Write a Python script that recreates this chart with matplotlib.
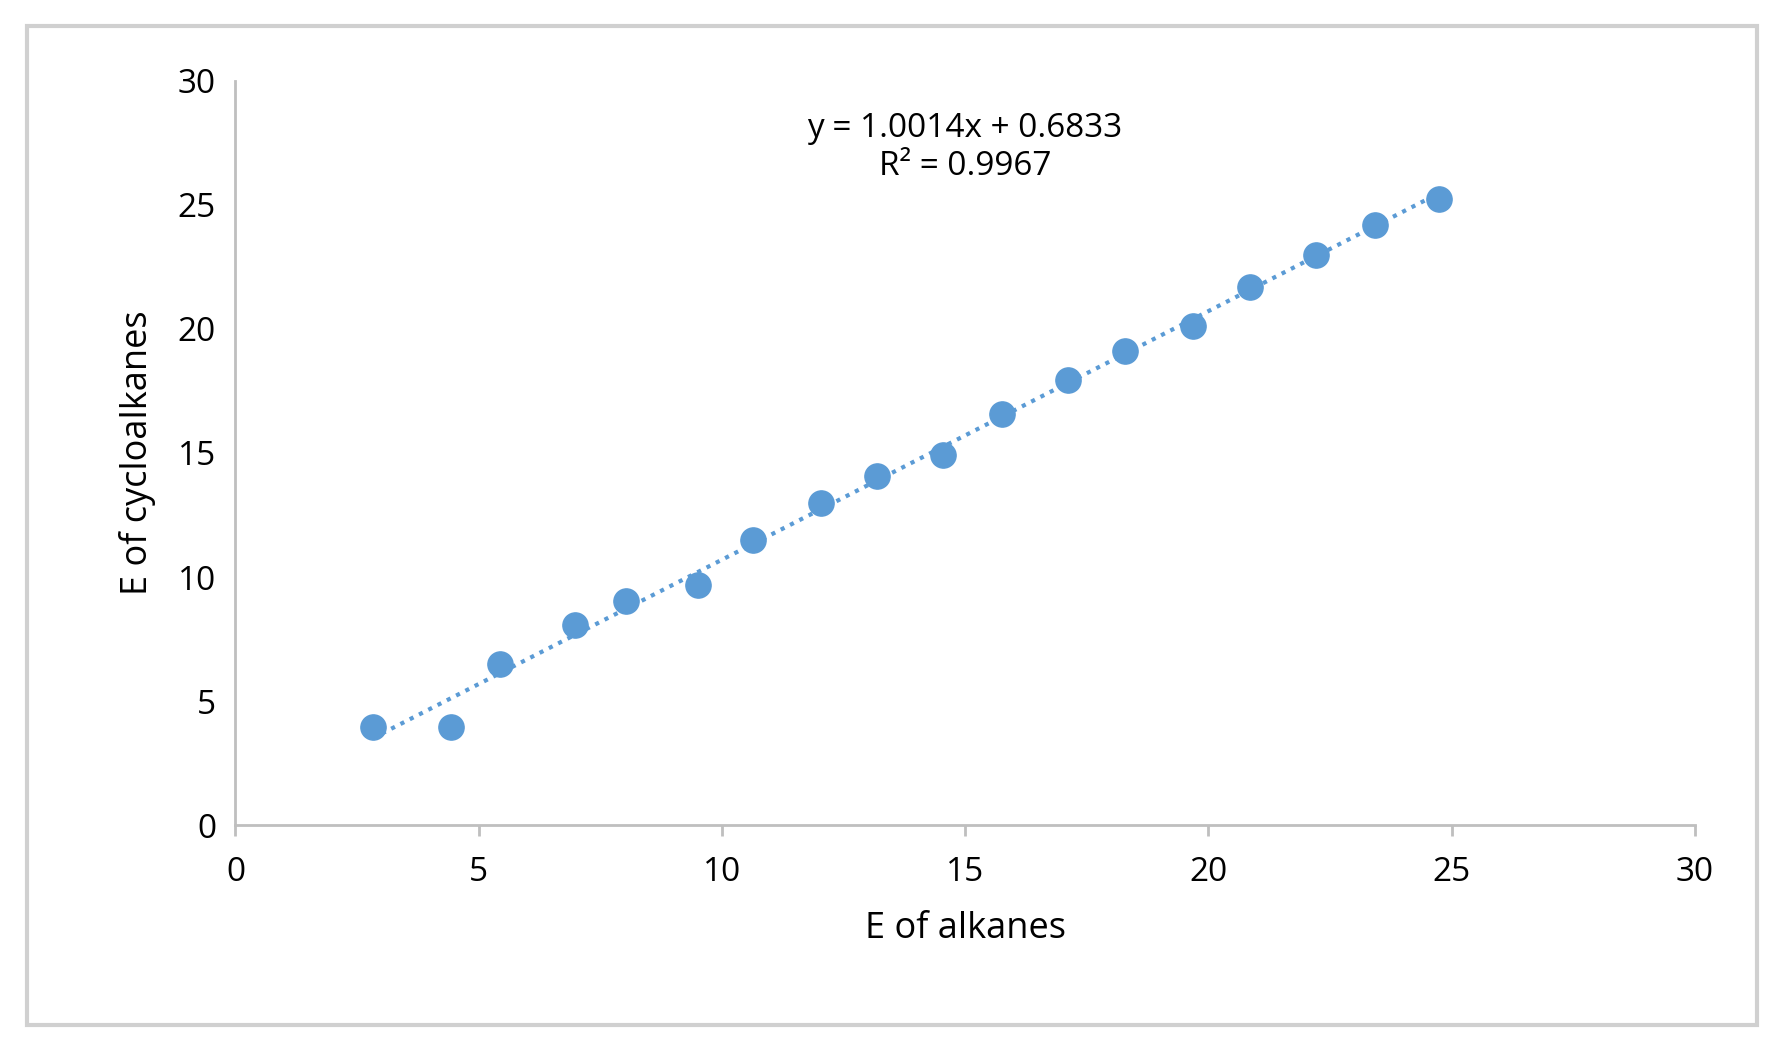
import numpy as np
import matplotlib.pyplot as plt
from matplotlib.patches import Rectangle

plt.rcParams['font.family'] = ['Open Sans', 'DejaVu Sans']

# datos
alcanos = [2.82, 4.44, 5.43, 6.98, 8.02, 9.50, 10.63, 12.04, 13.19, 14.55,
           15.75, 17.12, 18.29, 19.68, 20.86, 22.22, 23.42, 24.74]
cicloalcanos = [3.96, 3.96, 6.49, 8.05, 9.02, 9.66, 11.5, 12.98, 14.08, 14.91,
                16.57, 17.95, 19.1, 20.11, 21.68, 22.96, 24.2, 25.22]
pendiente = 1.0014
intercepto = 0.6833

fig = plt.figure(figsize=(17.84, 10.46), dpi=100)
fig.patches.append(Rectangle((0.015, 0.02), 0.97, 0.955, transform=fig.transFigure,
                             fill=False, edgecolor='#d0d0d0', linewidth=3))
ax = fig.add_axes([0.132, 0.211, 0.818, 0.712])

x = np.array(alcanos)
ax.plot([x.min(), x.max()], [pendiente * x.min() + intercepto, pendiente * x.max() + intercepto],
        linestyle=(0, (1, 1.5)), color='#5b9bd5', linewidth=3, zorder=1)
ax.scatter(alcanos, cicloalcanos, s=330, color='#5b9bd5', zorder=2)

ax.set_xlim(0, 30)
ax.set_ylim(0, 30)
ax.set_xticks(range(0, 31, 5))
ax.set_yticks(range(0, 31, 5))
ax.tick_params(labelsize=24, length=0, pad=14)
for s in ['top', 'right']:
    ax.spines[s].set_visible(False)
for s in ['left', 'bottom']:
    ax.spines[s].set_color('#bfbfbf')
    ax.spines[s].set_linewidth(2)
ax.tick_params(axis='x', length=8, color='#bfbfbf', width=2, direction='out')

ax.set_xlabel('E of alkanes', fontsize=26, labelpad=16)
ax.set_ylabel('E of cycloalkanes', fontsize=26, labelpad=16)
ax.text(15, 27.3, 'y = 1.0014x + 0.6833\nR² = 0.9967', ha='center', va='center',
        fontsize=24, linespacing=1.2)

plt.savefig('out.png')
